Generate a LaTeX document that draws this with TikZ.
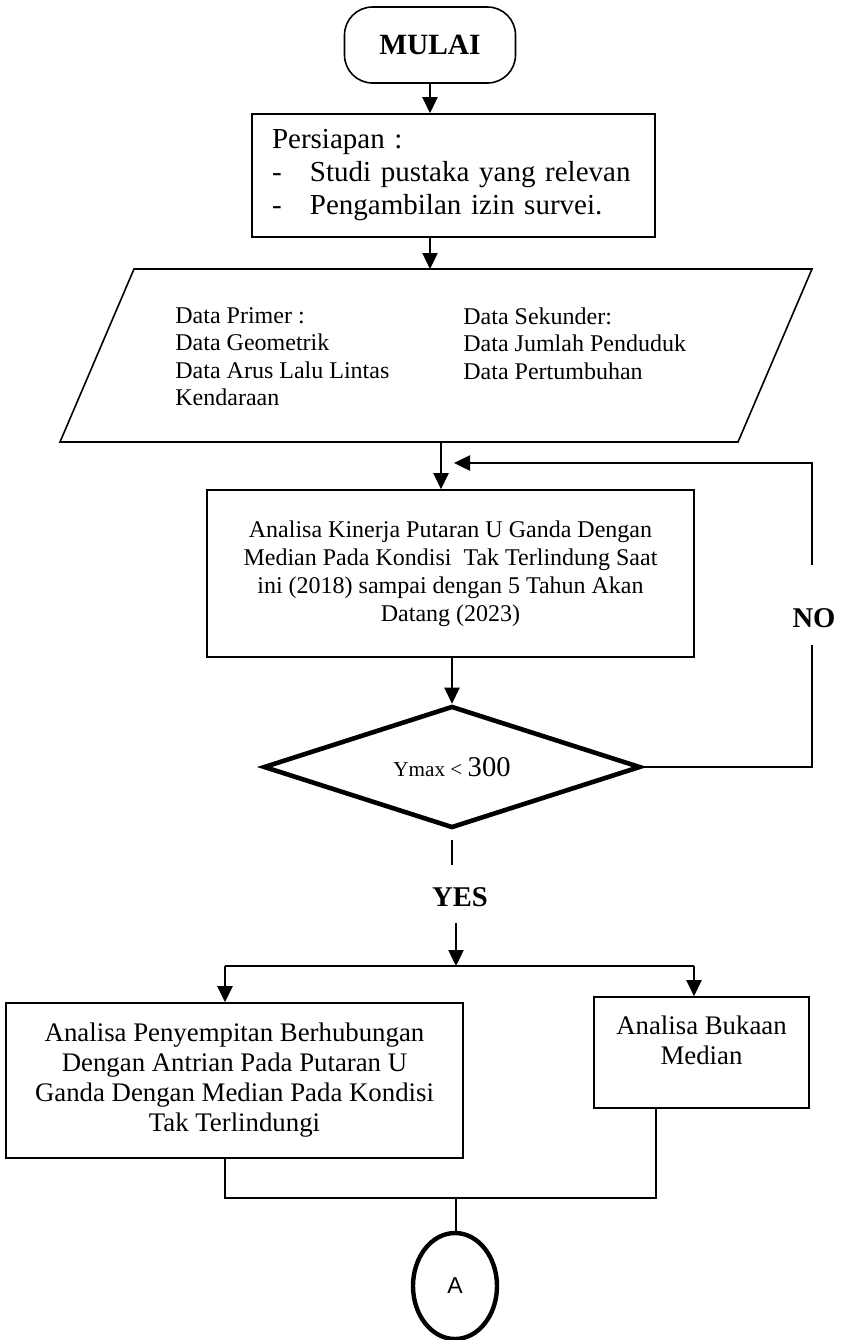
\documentclass[tikz,border=0pt]{standalone}
\usepackage{fontspec}
\setmainfont{Liberation Serif}
\newfontfamily\arialfont{Liberation Sans}
\usetikzlibrary{arrows.meta, shapes.geometric, calc}

\tikzset{
  box/.style={draw, line width=0.8pt, align=center, inner sep=0pt},
  arr/.style={-{Triangle[width=7.5pt,length=8pt]}, line width=1.2pt},
  lnk/.style={line width=0.9pt},
  lbl/.style={font=\fontsize{14.3}{16}\selectfont\bfseries, inner sep=0pt},
  coltext/.style={anchor=north west, align=left, inner sep=0pt, font=\fontsize{12}{13.75}\selectfont},
}

\begin{document}
\begin{tikzpicture}[x=0.5pt, y=-0.5pt]
\useasboundingbox (0,0) rectangle (841,1340);
% start and preparation
\node[box, rounded corners=14pt, minimum width=85.5pt, minimum height=38pt, font=\fontsize{14.7}{16}\selectfont\bfseries] (mulai) at (430,45) {MULAI};
\node[box, minimum width=201.5pt, minimum height=61.5pt, text width=181.5pt, align=left, font=\fontsize{14.5}{16.5}\selectfont] (siap) at (453.5,175.5) {Persiapan :\\ \makebox[19pt][l]{-}Studi pustaka yang relevan\\ \makebox[19pt][l]{-}Pengambilan izin survei.};
% data input
\draw[line width=0.8pt] (134,269) coordinate (p1) -- (812,269) coordinate (p2) -- (738,442) coordinate (p3) -- (60,442) coordinate (p4) -- cycle;
\node[coltext] (primer) at (175,307) {Data Primer :\\Data Geometrik\\Data Arus Lalu Lintas\\Kendaraan};
\node[coltext] (sekunder) at (463,307) {Data Sekunder:\\Data Jumlah Penduduk\\Data Pertumbuhan};
\coordinate (pout) at (441,442);
% analysis and decision
\node[box, minimum width=243.5pt, minimum height=83.5pt, font=\fontsize{12}{14}\selectfont] (ana) at (450.5,573.5) {Analisa Kinerja Putaran U Ganda Dengan\\Median Pada Kondisi\ \ Tak Terlindung Saat\\ini (2018) sampai dengan 5 Tahun Akan\\Datang (2023)};
\node[draw, diamond, aspect=3, line width=2.3pt, minimum width=188.5pt, minimum height=61pt, inner sep=0pt] (dec) at (452,767) {\fontsize{10.6}{12}\selectfont Ymax < \fontsize{14.3}{16}\selectfont 300};
\node[lbl] (no) at (814,618) {NO};
\coordinate (ntop) at (812,565); \coordinate (nbot) at (812,645); \coordinate (back) at (454,463);
\node[lbl] (yes) at (460,897) {YES};
\coordinate (ybot) at (454,865); \coordinate (yarr) at (456,923); \coordinate (split) at (456,966);
% results
\node[box, minimum width=228.5pt, minimum height=77.5pt, font=\fontsize{13.4}{15}\selectfont] (bl) at (234.5,1080.5) {Analisa Penyempitan Berhubungan\\Dengan Antrian Pada Putaran U\\Ganda Dengan Median Pada Kondisi\\Tak Terlindungi};
\node[box, minimum width=107.5pt, minimum height=55.5pt, font=\fontsize{13.4}{15}\selectfont] (br) at (701.5,1052.5) {Analisa Bukaan\\Median\\[-3pt]\mbox{}};
\coordinate (lft) at (225,966); \coordinate (rgt) at (694,966);
\coordinate (mrg) at (456,1198); \coordinate (mrgR) at (656,1198);
\node[draw, ellipse, line width=2.2pt, minimum width=42pt, minimum height=53pt, inner sep=0pt, font=\arialfont\fontsize{11.5}{13}\selectfont] (a) at (455,1286) {A};
% connectors
\draw[arr] (mulai.south) -- (mulai.south |- siap.north);
\draw[arr] (siap.south -| mulai) -- (mulai |- p1);
\draw[arr] (pout) -- (pout |- ana.north);
\draw[arr] (dec.north |- ana.south) -- (dec.north);
\draw[lnk] (dec.east) -| (nbot);
\draw[arr] (ntop) |- (back);
\draw[lnk, shorten <=5pt] (dec.south) -- (dec.south |- ybot);
\draw[arr] (yarr) -- (split);
\draw[lnk] (lft) -- (rgt);
\draw[arr] (lft) -- (lft |- bl.north);
\draw[arr] (rgt) -- (rgt |- br.north);
\draw[lnk] (lft |- bl.south) -- (lft |- mrg) -- (mrgR) -- (mrgR |- br.south);
\draw[lnk] (mrg) -- (mrg |- a.north);
\end{tikzpicture}
\end{document}
